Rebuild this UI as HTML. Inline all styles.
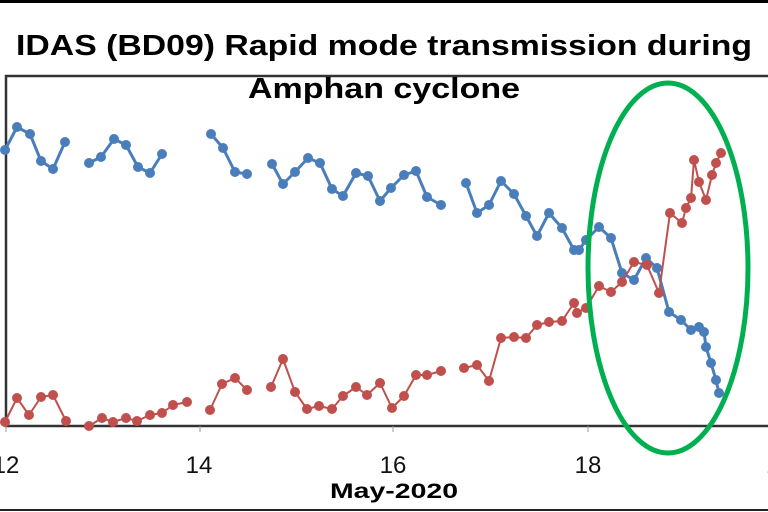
<!DOCTYPE html>
<html><head><meta charset="utf-8"><style>body{margin:0;background:#fff}svg{display:block}</style></head><body>
<svg width="768" height="512" viewBox="0 0 768 512" xmlns="http://www.w3.org/2000/svg" font-family="Liberation Sans, sans-serif">
<rect x="0" y="0" width="768" height="512" fill="#fff"/>
<line x1="0" y1="1.5" x2="768" y2="1.5" stroke="#000" stroke-width="3"/>
<line x1="0" y1="510" x2="768" y2="510" stroke="#222" stroke-width="2"/>
<rect x="6" y="76" width="770" height="350" fill="none" stroke="#333" stroke-width="2.5"/>
<g stroke="#999" stroke-width="1"><line x1="6" y1="426" x2="6" y2="432"/><line x1="200" y1="426" x2="200" y2="432"/><line x1="393" y1="426" x2="393" y2="432"/><line x1="588" y1="426" x2="588" y2="432"/></g>
<g font-size="24" fill="#111" text-anchor="middle"><text x="6" y="473">12</text><text x="199" y="473">14</text><text x="393" y="473">16</text><text x="588" y="473">18</text><text x="780" y="473">20</text></g>
<text x="394" y="498" font-size="21" font-weight="bold" text-anchor="middle" textLength="128" lengthAdjust="spacingAndGlyphs">May-2020</text>
<text x="384" y="55" font-size="29" font-weight="bold" text-anchor="middle" textLength="736" lengthAdjust="spacingAndGlyphs">IDAS (BD09) Rapid mode transmission during</text>
<text x="384" y="98" font-size="29" font-weight="bold" text-anchor="middle" textLength="272" lengthAdjust="spacingAndGlyphs">Amphan cyclone</text>
<g fill="none" stroke="#4a7ebb" stroke-width="3" stroke-linejoin="round">
<polyline points="5,150 17,127 30,134 41,161 53,169 65,142"/>
<polyline points="89,163 101,157 114,139 126,145 138,167 150,173 162,154"/>
<polyline points="211,134 223,148 235,172 247,174"/>
<polyline points="272,164 283,184 295,172 308,158 320,163 332,189 343,196 356,173 368,176 380,201 391,188 404,175 416,171 427,197 441,205"/>
<polyline points="466,183 477,213 489,205 501,181 514,194 526,216 537,236 549,213 562,228 574,250 579,250 586,240 599,227 611,238 622,273 634,280 646,258 657,268 669,312 681,320 691,330 699,327 704,332 706,347 711,363 716,380 719,393"/>
</g>
<g fill="#4a7ebb">
<circle cx="5" cy="150" r="5"/><circle cx="17" cy="127" r="5"/><circle cx="30" cy="134" r="5"/><circle cx="41" cy="161" r="5"/><circle cx="53" cy="169" r="5"/><circle cx="65" cy="142" r="5"/>
<circle cx="89" cy="163" r="5"/><circle cx="101" cy="157" r="5"/><circle cx="114" cy="139" r="5"/><circle cx="126" cy="145" r="5"/><circle cx="138" cy="167" r="5"/><circle cx="150" cy="173" r="5"/><circle cx="162" cy="154" r="5"/>
<circle cx="211" cy="134" r="5"/><circle cx="223" cy="148" r="5"/><circle cx="235" cy="172" r="5"/><circle cx="247" cy="174" r="5"/>
<circle cx="272" cy="164" r="5"/><circle cx="283" cy="184" r="5"/><circle cx="295" cy="172" r="5"/><circle cx="308" cy="158" r="5"/><circle cx="320" cy="163" r="5"/><circle cx="332" cy="189" r="5"/><circle cx="343" cy="196" r="5"/><circle cx="356" cy="173" r="5"/><circle cx="368" cy="176" r="5"/><circle cx="380" cy="201" r="5"/><circle cx="391" cy="188" r="5"/><circle cx="404" cy="175" r="5"/><circle cx="416" cy="171" r="5"/><circle cx="427" cy="197" r="5"/><circle cx="441" cy="205" r="5"/>
<circle cx="466" cy="183" r="5"/><circle cx="477" cy="213" r="5"/><circle cx="489" cy="205" r="5"/><circle cx="501" cy="181" r="5"/><circle cx="514" cy="194" r="5"/><circle cx="526" cy="216" r="5"/><circle cx="537" cy="236" r="5"/><circle cx="549" cy="213" r="5"/><circle cx="562" cy="228" r="5"/><circle cx="574" cy="250" r="5"/><circle cx="579" cy="250" r="5"/><circle cx="586" cy="240" r="5"/><circle cx="599" cy="227" r="5"/><circle cx="611" cy="238" r="5"/><circle cx="622" cy="273" r="5"/><circle cx="634" cy="280" r="5"/><circle cx="646" cy="258" r="5"/><circle cx="657" cy="268" r="5"/><circle cx="669" cy="312" r="5"/><circle cx="681" cy="320" r="5"/><circle cx="691" cy="330" r="5"/><circle cx="699" cy="327" r="5"/><circle cx="704" cy="332" r="5"/><circle cx="706" cy="347" r="5"/><circle cx="711" cy="363" r="5"/><circle cx="716" cy="380" r="5"/><circle cx="719" cy="393" r="5"/>
</g>
<g fill="none" stroke="#c0504d" stroke-width="2" stroke-linejoin="round">
<polyline points="5,422 17,398 29,415 41,397 53,395 66,421"/>
<polyline points="89,426 102,418 113,422 126,418 137,421 150,415 162,413 173,405 187,402"/>
<polyline points="210,410 222,384 235,378 247,390"/>
<polyline points="271,387 283,359 295,392 307,409 319,406 332,409 343,396 356,387 367,395 380,383 392,408 404,396 416,375 427,375 441,371"/>
<polyline points="464,368 477,365 489,381 501,338 514,337 526,338 537,325 549,322 562,321 574,303 577,313 586,308 599,286 611,292 622,282 634,262 647,265 659,293 670,213 682,223 686,208 691,198 694,160 699,182 706,200 712,175 716,163 721,153"/>
</g>
<g fill="#c0504d">
<circle cx="5" cy="422" r="5"/><circle cx="17" cy="398" r="5"/><circle cx="29" cy="415" r="5"/><circle cx="41" cy="397" r="5"/><circle cx="53" cy="395" r="5"/><circle cx="66" cy="421" r="5"/>
<circle cx="89" cy="426" r="5"/><circle cx="102" cy="418" r="5"/><circle cx="113" cy="422" r="5"/><circle cx="126" cy="418" r="5"/><circle cx="137" cy="421" r="5"/><circle cx="150" cy="415" r="5"/><circle cx="162" cy="413" r="5"/><circle cx="173" cy="405" r="5"/><circle cx="187" cy="402" r="5"/>
<circle cx="210" cy="410" r="5"/><circle cx="222" cy="384" r="5"/><circle cx="235" cy="378" r="5"/><circle cx="247" cy="390" r="5"/>
<circle cx="271" cy="387" r="5"/><circle cx="283" cy="359" r="5"/><circle cx="295" cy="392" r="5"/><circle cx="307" cy="409" r="5"/><circle cx="319" cy="406" r="5"/><circle cx="332" cy="409" r="5"/><circle cx="343" cy="396" r="5"/><circle cx="356" cy="387" r="5"/><circle cx="367" cy="395" r="5"/><circle cx="380" cy="383" r="5"/><circle cx="392" cy="408" r="5"/><circle cx="404" cy="396" r="5"/><circle cx="416" cy="375" r="5"/><circle cx="427" cy="375" r="5"/><circle cx="441" cy="371" r="5"/>
<circle cx="464" cy="368" r="5"/><circle cx="477" cy="365" r="5"/><circle cx="489" cy="381" r="5"/><circle cx="501" cy="338" r="5"/><circle cx="514" cy="337" r="5"/><circle cx="526" cy="338" r="5"/><circle cx="537" cy="325" r="5"/><circle cx="549" cy="322" r="5"/><circle cx="562" cy="321" r="5"/><circle cx="574" cy="303" r="5"/><circle cx="577" cy="313" r="5"/><circle cx="586" cy="308" r="5"/><circle cx="599" cy="286" r="5"/><circle cx="611" cy="292" r="5"/><circle cx="622" cy="282" r="5"/><circle cx="634" cy="262" r="5"/><circle cx="647" cy="265" r="5"/><circle cx="659" cy="293" r="5"/><circle cx="670" cy="213" r="5"/><circle cx="682" cy="223" r="5"/><circle cx="686" cy="208" r="5"/><circle cx="691" cy="198" r="5"/><circle cx="694" cy="160" r="5"/><circle cx="699" cy="182" r="5"/><circle cx="706" cy="200" r="5"/><circle cx="712" cy="175" r="5"/><circle cx="716" cy="163" r="5"/><circle cx="721" cy="153" r="5"/>
</g>
<ellipse cx="668" cy="268" rx="80" ry="185" fill="none" stroke="#00b050" stroke-width="5"/>
</svg>
</body></html>
